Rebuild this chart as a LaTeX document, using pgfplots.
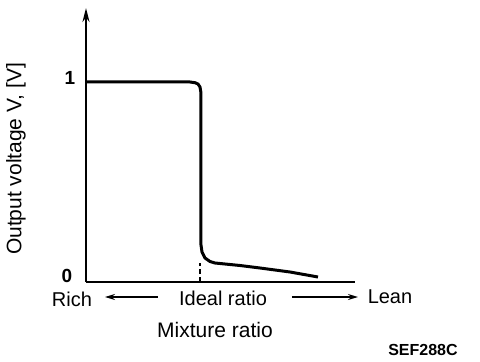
\documentclass[border=0pt]{standalone}
\usepackage{pgfplots}
\pgfplotsset{compat=1.18}
\usepackage{fontspec}
\setmainfont{Liberation Sans}
\usetikzlibrary{arrows.meta}
\begin{document}
\begin{tikzpicture}
\begin{axis}[
  x=1pt, y=200pt,
  xmin=0, xmax=269, ymin=0, ymax=1.37,
  axis lines=left,
  x axis line style={-, line width=2pt},
  y axis line style={-{Stealth[length=14pt,width=7pt]}, line width=2pt},
  xtick=\empty, ytick=\empty,
  clip=false,
]
\path[use as bounding box] (axis cs:-86,-0.4) rectangle (axis cs:394,1.41);
\addplot[black, line width=3pt, line join=round] coordinates {
(0,1.0) (104,1.0) (109,0.9965) (112,0.99) (114,0.975) (115,0.945)
(115,0.185) (116,0.15) (119,0.12) (124,0.1025) (129,0.095)
(154,0.0825) (174,0.07) (204,0.05) (232,0.025)
};
\addplot[black, line width=2pt, dash pattern=on 5pt off 3pt] coordinates {(114,0) (114,0.095)};
\node[font=\fontsize{19}{19}\selectfont\bfseries] at (axis cs:-16,1.02) {1};
\node[font=\fontsize{19}{19}\selectfont\bfseries] at (axis cs:-19,0.03) {0};
\node[rotate=90, font=\fontsize{21}{21}\selectfont] at (axis cs:-70,0.615) {Output voltage V, [V]};
\node[font=\fontsize{20}{20}\selectfont] at (axis cs:-14,-0.085) {Rich};
\node[font=\fontsize{20}{20}\selectfont] at (axis cs:137,-0.08) {Ideal ratio};
\node[font=\fontsize{20}{20}\selectfont] at (axis cs:304,-0.075) {Lean};
\node[font=\fontsize{21}{21}\selectfont] at (axis cs:129,-0.24) {Mixture ratio};
\node[font=\fontsize{16}{16}\selectfont\bfseries] at (axis cs:337,-0.34) {SEF288C};
\draw[line width=1.5pt, -{Stealth[length=10pt,width=6pt]}] (axis cs:72,-0.075) -- (axis cs:19,-0.075);
\draw[line width=1.5pt, -{Stealth[length=10pt,width=6pt]}] (axis cs:206,-0.075) -- (axis cs:272,-0.075);
\end{axis}
\end{tikzpicture}
\end{document}
